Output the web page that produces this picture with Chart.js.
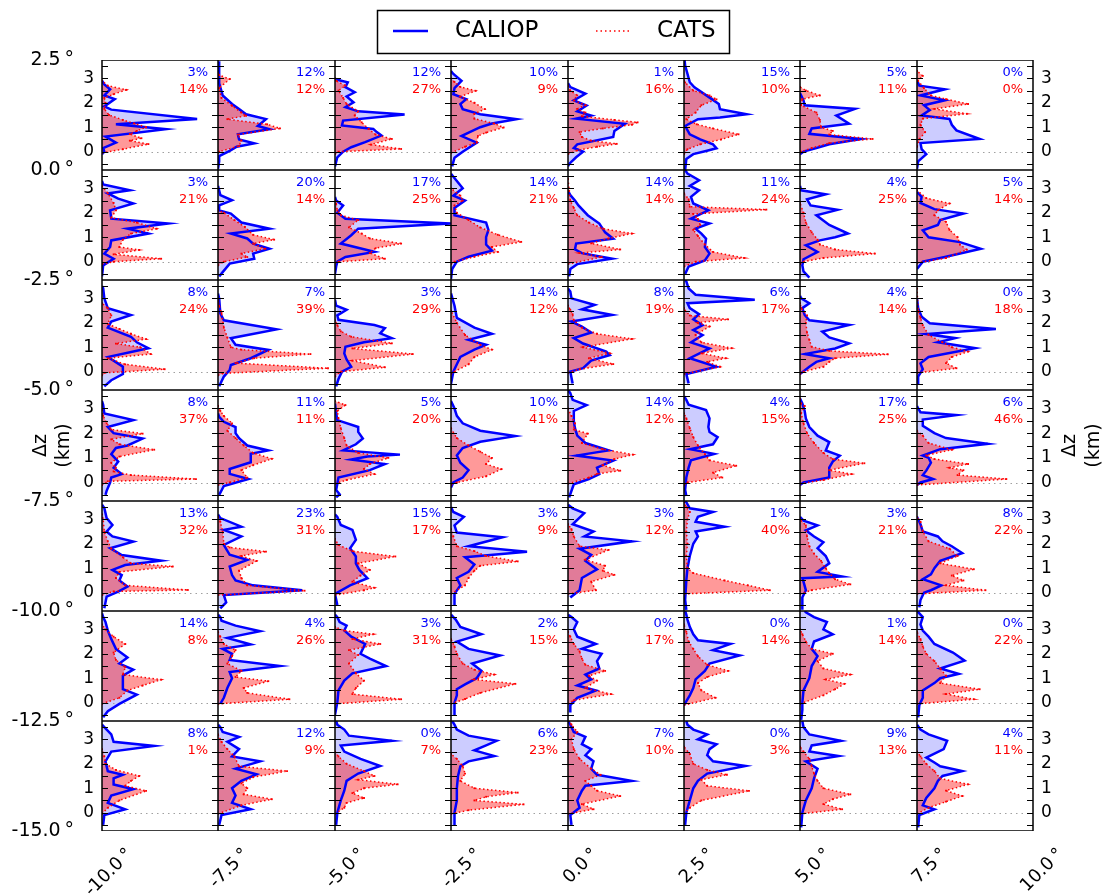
<!DOCTYPE html>
<html lang="en">
<head>
<meta charset="UTF-8">
<title>CALIOP vs CATS profiles</title>
<script src="https://cdn.jsdelivr.net/npm/chart.js"></script>
<style>
  body { margin: 0; background: #fff; }
  #wrap { position: relative; width: 1107px; height: 895px; }
  #wrap canvas { position: absolute; }
</style>
</head>
<body>
<div id="wrap"><canvas id="frame" width="1107" height="895" style="left:0;top:0"></canvas></div>

<script>
// grid of boxes: longitude columns and latitude rows (degrees)
const lonTicks = [-10, -7.5, -5, -2.5, 0, 2.5, 5, 7.5, 10];
const latTicks = [2.5, 0, -2.5, -5, -7.5, -10, -12.5, -15];
// height axis inside each box (km)
const dzTicks = [0, 1, 2, 3];
const dzMarks = [-0.5, 0, 0.5, 1, 1.5, 2, 2.5, 3, 3.5];

// percentages printed in each box, one row per latitude band
const caliopPct = [
  [3, 12, 12, 10, 1, 15, 5, 0],
  [3, 20, 17, 14, 14, 11, 4, 5],
  [8, 7, 3, 14, 8, 6, 4, 0],
  [8, 11, 5, 10, 14, 4, 17, 6],
  [13, 23, 15, 3, 3, 1, 3, 8],
  [14, 4, 3, 2, 0, 0, 1, 0],
  [8, 12, 0, 6, 7, 0, 9, 4]
];
const catsPct = [
  [14, 12, 27, 9, 16, 10, 11, 0],
  [21, 14, 25, 21, 14, 24, 25, 14],
  [24, 39, 29, 12, 19, 17, 14, 18],
  [37, 11, 20, 41, 12, 15, 25, 46],
  [32, 31, 17, 9, 12, 40, 21, 22],
  [8, 26, 31, 15, 17, 14, 14, 22],
  [1, 9, 7, 23, 10, 3, 13, 11]
];

// profiles: flat pairs dz(km), frequency (% of box width)
const caliop0 = [
  [-0.1,0, 0,2, 0.15,1, 0.37,12, 0.62,3, 0.92,55, 1.12,12, 1.34,82, 1.72,8, 1.85,2, 2.15,11, 2.3,2, 2.55,7, 2.75,2, 2.9,0],
  [-0.7,0, -0.4,1, -0.18,1, 0.03,10, 0.2,16, 0.34,31, 0.5,18, 0.71,17, 0.92,44, 1.05,34, 1.33,41, 1.53,24, 1.74,18, 1.95,12, 2.3,4, 2.8,1, 3.7,1],
  [-0.6,0, -0.23,2, 0,7, 0.18,14, 0.39,26, 0.66,40, 0.8,36, 0.93,33, 1.07,6, 1.27,7, 1.52,60, 1.65,20, 1.82,9, 2.02,16, 2.26,10, 2.43,17, 2.64,9, 2.84,11, 2.95,1, 3.0,0],
  [-0.6,1, -0.25,3, 0,10, 0.37,22, 0.64,9, 0.8,16, 1.0,25, 1.15,35, 1.33,56, 1.53,25, 1.74,10, 1.95,8, 2.15,13, 2.35,2, 2.6,3, 2.9,9, 3.18,2, 3.3,0],
  [-0.6,0, -0.5,1, -0.23,7, 0,13, 0.15,5, 0.3,8, 0.6,39, 0.85,40, 1.14,49, 1.35,7, 1.48,20, 1.65,8, 1.89,16, 2.1,5, 2.37,15, 2.64,2, 2.8,0],
  [-0.75,1, -0.3,2, -0.1,8, 0.03,19, 0.14,28, 0.3,25, 0.5,14, 0.71,5, 1.05,1, 1.33,12, 1.4,31, 1.53,54, 1.74,31, 1.95,30, 2.15,24, 2.63,9, 2.84,5, 3.52,1, 3.75,0.5],
  [-0.1,0, 0,3, 0.15,14, 0.3,25, 0.52,52, 0.73,8, 0.95,10, 1.14,42, 1.48,31, 1.75,47, 1.9,4, 2.1,3, 2.3,1, 2.4,0],
  [-0.7,0, -0.4,1, -0.1,8, 0.1,4, 0.35,3, 0.52,54, 0.87,34, 1.1,30, 1.34,28, 1.48,4, 1.7,11, 1.9,6, 2.1,24, 2.3,3, 2.55,24, 2.7,2, 2.9,0]
];
const cats0 = [
  [-0.05,0, 0.1,18, 0.31,40, 0.45,24, 0.55,34, 0.72,24, 0.85,30, 1.0,38, 1.15,28, 1.3,18, 1.5,6, 1.75,2, 2.0,3, 2.2,2, 2.35,10, 2.53,21, 2.7,5, 2.9,0],
  [-0.05,0, 0,1, 0.23,18, 0.45,20, 0.7,17, 0.95,53, 1.12,42, 1.33,8, 1.47,24, 1.6,20, 1.88,12, 2.2,3, 2.6,1, 2.97,10, 3.13,1, 3.2,0],
  [-0.1,0, 0,3, 0.11,57, 0.29,31, 0.52,49, 0.7,35, 0.93,29, 1.2,23, 1.48,17, 1.65,20, 1.95,10, 2.2,7, 2.5,3, 2.7,9, 2.9,1, 3.0,0],
  [-0.05,0, 0.2,12, 0.37,22, 0.64,23, 0.78,30, 0.99,45, 1.15,37, 1.35,20, 1.55,20, 1.74,29, 2.0,20, 2.25,8, 2.49,21, 2.65,8, 2.85,3, 3.0,0],
  [-0.1,0, 0.05,8, 0.2,25, 0.32,42, 0.45,20, 0.6,12, 0.8,10, 0.95,30, 1.1,55, 1.2,60, 1.3,40, 1.45,12, 1.6,15, 1.75,8, 1.9,15, 2.1,5, 2.3,8, 2.5,2, 2.7,0],
  [-0.1,0, 0.1,3, 0.3,14, 0.5,32, 0.71,47, 0.95,25, 1.12,11, 1.33,2, 1.6,10, 1.9,15, 2.14,28, 2.3,22, 2.5,8, 2.83,1, 2.9,0],
  [-0.05,0, 0,1, 0.15,10, 0.35,25, 0.52,62, 0.7,25, 0.85,28, 1.0,18, 1.3,17, 1.6,14, 1.9,1, 2.15,2, 2.3,17, 2.5,5, 2.65,0],
  [0.2,0, 0.5,2, 0.8,7, 1.1,3, 1.35,5, 1.55,43, 1.75,15, 1.95,44, 2.15,25, 2.3,12, 2.6,6, 2.9,1, 3.1,5, 3.3,0]
];
const caliop1 = [
  [-0.6,0, -0.15,1, 0.12,10, 0.33,2, 0.6,7, 0.87,8, 1.15,40, 1.35,22, 1.56,57, 1.76,8, 2.1,7, 2.38,27, 2.58,14, 2.79,5, 2.92,24, 3.16,1, 3.3,0],
  [-0.6,1, -0.08,10, 0.12,31, 0.33,30, 0.53,44, 0.74,30, 0.95,25, 1.15,11, 1.35,44, 1.6,20, 1.97,11, 2.1,1, 2.3,1, 2.51,12, 2.72,2, 3.1,0],
  [-0.5,0, -0.2,1, 0,2, 0.19,9, 0.4,34, 0.74,5, 1.08,14, 1.35,20, 1.56,100, 1.76,9, 2.0,2, 2.3,7, 2.5,1, 2.65,0],
  [-0.7,0, -0.3,1, 0,5, 0.2,15, 0.45,35, 0.7,30, 1.0,30, 1.3,32, 1.6,30, 1.9,3, 2.2,3, 2.5,12, 2.7,2, 3.0,10, 3.3,5, 3.6,0],
  [-0.6,1, -0.3,2, -0.1,8, 0.12,38, 0.35,12, 0.5,6, 0.74,7, 0.94,39, 1.2,32, 1.56,27, 1.9,17, 2.3,9, 2.5,6, 2.72,2, 2.9,0],
  [-0.5,1, -0.2,4, 0.05,18, 0.33,22, 0.6,18, 0.94,19, 1.15,15, 1.35,10, 1.56,22, 1.76,6, 2.1,21, 2.38,8, 2.65,6, 2.92,13, 3.1,5, 3.33,13, 3.6,3, 3.75,1],
  [-0.65,8, -0.4,3, -0.15,2, 0.1,3, 0.4,15, 0.67,5, 0.87,17, 1.0,30, 1.15,41, 1.5,25, 1.9,14, 2.12,32, 2.3,9, 2.55,6, 2.76,22, 2.92,1, 3.1,0],
  [-0.3,0, 0,5, 0.19,24, 0.53,55, 0.8,37, 1.0,10, 1.28,5, 1.5,18, 1.7,20, 1.97,40, 2.15,15, 2.4,3, 2.65,4, 2.85,0]
];
const cats1 = [
  [-0.1,0, 0,10, 0.12,51, 0.3,10, 0.48,32, 0.6,15, 0.9,18, 1.15,25, 1.35,47, 1.6,30, 1.8,8, 2.1,12, 2.4,10, 2.8,5, 3.1,0],
  [-0.15,0, 0,5, 0.19,25, 0.33,20, 0.53,40, 0.74,30, 0.9,48, 1.1,30, 1.42,23, 1.7,14, 2.0,5, 2.1,0],
  [-0.05,0, 0,3, 0.12,43, 0.35,30, 0.55,35, 0.74,57, 0.95,30, 1.15,23, 1.4,12, 1.7,20, 1.9,5, 2.1,2, 2.38,1, 2.5,0],
  [-0.1,0, 0,3, 0.2,20, 0.4,40, 0.6,35, 0.81,60, 1.1,40, 1.4,25, 1.7,15, 2.0,5, 2.3,3, 2.5,10, 2.7,8, 3.0,0],
  [-0.1,0, 0.19,29, 0.35,10, 0.5,45, 0.75,20, 0.95,35, 1.15,55, 1.35,30, 1.6,18, 1.9,8, 2.2,5, 2.5,2, 2.9,1, 3.4,0],
  [-0.2,0, 0,10, 0.15,52, 0.4,25, 0.7,18, 1.05,12, 1.3,8, 1.5,14, 1.75,12, 1.95,8, 2.13,71, 2.25,5, 2.55,4, 2.8,0],
  [-0.1,0, 0,3, 0.15,20, 0.33,64, 0.5,30, 0.7,17, 0.9,15, 1.2,10, 1.6,5, 2.0,3, 2.4,0],
  [-0.05,0, 0.15,25, 0.49,43, 0.7,37, 1.0,35, 1.3,28, 1.63,25, 1.9,15, 2.1,18, 2.38,28, 2.6,8, 2.92,0]
];
const caliop2 = [
  [-0.6,2, -0.35,8, -0.1,18, 0.2,18, 0.45,10, 0.6,5, 0.96,40, 1.2,30, 1.43,25, 1.8,5, 2.05,8, 2.32,25, 2.6,5, 3.0,2, 3.42,1, 3.5,0],
  [-0.6,1, -0.2,5, 0.07,10, 0.27,11, 0.55,28, 0.89,43, 1.1,15, 1.37,11, 1.73,50, 2.1,5, 2.38,2, 3.0,1, 3.2,0],
  [-0.6,1, -0.3,3, 0,6, 0.2,14, 0.5,10, 0.75,8, 1.02,9, 1.2,25, 1.37,49, 1.57,39, 1.78,43, 1.91,34, 2.12,3, 2.3,2, 2.53,10, 2.7,1, 2.94,0],
  [-0.5,0, 0,2, 0.3,5, 0.6,8, 0.9,20, 1.1,30, 1.3,15, 1.55,35, 1.8,20, 2.2,5, 2.7,3, 3.2,0],
  [-0.48,4, 0,2, 0.14,13, 0.45,20, 0.68,36, 0.82,33, 1.15,13, 1.37,5, 1.6,20, 1.84,12, 2.05,3, 2.32,38, 2.55,12, 2.73,23, 3.0,3, 3.28,2, 3.4,0],
  [-0.48,4, -0.1,2, 0.2,28, 0.55,5, 0.95,22, 1.2,6, 1.5,16, 1.7,8, 1.9,16, 2.14,8, 2.35,13, 2.6,5, 2.8,3, 2.94,61, 3.15,10, 3.4,4, 3.69,2, 3.75,1],
  [-0.1,0, 0.2,8, 0.4,14, 0.55,25, 0.72,4, 0.95,30, 1.16,42, 1.4,25, 1.64,19, 1.91,42, 2.1,8, 2.32,4, 2.6,2, 2.8,8, 3.0,1, 3.1,0],
  [-0.5,1, -0.2,1, 0.1,5, 0.34,3, 0.6,10, 0.96,50, 1.2,18, 1.37,33, 1.54,8, 1.75,68, 1.98,11, 2.25,4, 2.6,1, 3.0,0]
];
const cats2 = [
  [-0.15,0, -0.05,2, 0.1,54, 0.3,20, 0.55,5, 0.72,42, 1.0,33, 1.15,12, 1.33,38, 1.55,25, 1.75,15, 1.95,5, 2.3,8, 2.6,5, 2.8,0],
  [-0.15,0, -0.07,4, 0.14,94, 0.35,15, 0.55,31, 0.72,79, 0.9,20, 1.0,11, 1.4,8, 1.8,5, 2.4,3, 2.7,1, 2.9,0],
  [-0.2,0, 0,5, 0.18,43, 0.45,15, 0.72,67, 0.95,15, 1.16,49, 1.43,14, 1.65,5, 1.9,2, 2.1,0],
  [-0.1,0, 0,3, 0.3,15, 0.6,20, 0.9,35, 1.1,25, 1.5,12, 2.0,5, 2.5,0],
  [-0.05,0, 0.1,10, 0.31,39, 0.55,18, 0.75,36, 1.0,13, 1.34,55, 1.55,25, 1.8,12, 2.1,5, 2.35,4, 2.53,2, 2.7,0],
  [-0.1,0, 0.2,31, 0.4,20, 0.55,36, 0.75,15, 0.96,41, 1.2,15, 1.5,10, 1.85,22, 2.0,12, 2.14,38, 2.3,5, 2.5,1, 2.6,0],
  [-0.1,0, 0,3, 0.2,20, 0.4,25, 0.55,30, 0.71,75, 0.85,25, 1.02,10, 1.3,8, 1.6,6, 2.0,5, 2.3,6, 2.6,1, 2.8,0],
  [-0.05,0, 0.14,34, 0.35,25, 0.6,30, 0.82,44, 1.0,30, 1.2,22, 1.5,10, 1.9,5, 2.2,3, 2.5,1, 3.4,0]
];
const caliop3 = [
  [-0.5,3, -0.34,4, 0,7, 0.2,8, 0.34,17, 0.6,10, 0.85,14, 1.15,8, 1.4,12, 1.5,22, 1.78,35, 2.0,10, 2.25,5, 2.53,27, 2.8,2, 3.15,1, 3.3,0],
  [-0.5,1, -0.14,5, 0.14,26, 0.35,10, 0.55,10, 0.82,28, 1.16,28, 1.3,43, 1.5,25, 1.8,18, 2.0,15, 2.25,15, 2.46,5, 2.66,1, 2.8,0],
  [-0.6,1, -0.48,4, -0.3,1, 0.2,3, 0.5,30, 0.75,43, 0.93,14, 1.05,28, 1.13,56, 1.3,7, 1.55,18, 1.78,24, 2.05,20, 2.25,20, 2.53,2, 2.8,1, 3.2,0],
  [-0.2,0, 0,2, 0.2,10, 0.5,15, 0.8,8, 1.1,5, 1.4,10, 1.65,25, 1.88,55, 2.1,25, 2.4,10, 2.7,5, 3.0,3, 3.3,0],
  [-0.6,1, -0.07,5, 0.14,18, 0.34,27, 0.6,25, 0.89,39, 1.09,7, 1.3,35, 1.6,15, 1.9,8, 2.2,6, 2.5,5, 2.9,5, 3.14,16, 3.35,4, 3.62,2, 3.75,0],
  [-0.55,2, -0.3,1, 0.2,2, 0.6,4, 0.9,6, 1.16,26, 1.35,5, 1.55,25, 1.84,29, 2.05,22, 2.25,21, 2.6,22, 2.94,19, 3.15,4, 3.35,2, 3.5,0],
  [-0.1,0, 0,3, 0.2,25, 0.6,25, 0.85,28, 1.09,34, 1.3,22, 1.64,25, 1.9,15, 2.25,8, 2.6,5, 2.9,4, 3.2,2, 3.4,0],
  [-0.1,0, 0,3, 0.14,14, 0.3,5, 0.48,8, 0.8,12, 1.0,10, 1.09,5, 1.35,20, 1.57,61, 1.8,25, 2.0,15, 2.3,5, 2.55,5, 2.73,34, 2.85,3, 3.0,1, 3.1,0]
];
const cats3 = [
  [-0.1,0, 0.05,5, 0.14,81, 0.3,25, 0.45,10, 0.6,12, 0.8,8, 1.05,15, 1.33,45, 1.55,15, 1.75,8, 1.98,35, 2.15,8, 2.4,4, 2.7,1, 2.95,0],
  [-0.1,0, 0,10, 0.2,25, 0.5,20, 0.7,30, 0.96,46, 1.2,30, 1.5,22, 1.8,15, 2.1,8, 2.4,12, 2.7,5, 2.9,2, 3.1,0],
  [-0.05,0, 0.1,10, 0.34,34, 0.55,25, 0.75,30, 1.0,46, 1.2,20, 1.5,10, 1.8,8, 2.2,5, 2.6,3, 2.9,2, 3.14,9, 3.3,0],
  [-0.1,0, 0,5, 0.25,30, 0.54,43, 0.75,30, 1.0,35, 1.25,25, 1.5,15, 1.8,5, 2.2,0],
  [-0.05,0, 0.2,18, 0.35,25, 0.48,45, 0.7,30, 0.95,40, 1.13,56, 1.35,30, 1.6,12, 1.98,17, 2.15,5, 2.4,6, 2.7,3, 3.0,0],
  [-0.1,0, 0,3, 0.2,33, 0.4,25, 0.68,45, 0.9,22, 1.15,18, 1.5,12, 1.84,8, 2.2,5, 2.6,2, 2.8,0],
  [-0.05,0, 0.1,20, 0.34,44, 0.5,25, 0.78,55, 0.95,28, 1.2,20, 1.6,12, 2.0,6, 2.4,3, 2.8,1, 3.1,4, 3.2,1, 3.4,0],
  [-0.1,0, 0.14,77, 0.3,35, 0.5,40, 0.6,28, 0.75,44, 0.95,15, 1.1,8, 1.33,30, 1.6,10, 1.9,5, 2.1,0]
];
const caliop4 = [
  [-0.64,2, -0.16,4, 0.04,14, 0.25,22, 0.5,15, 0.72,17, 0.93,9, 1.13,20, 1.31,51, 1.54,17, 1.82,7, 2.09,27, 2.3,9, 2.5,4, 2.77,9, 3.05,4, 3.46,2, 3.6,0],
  [-0.64,2, -0.4,7, -0.1,5, 0.1,72, 0.3,30, 0.5,15, 0.72,12, 1.07,10, 1.34,25, 1.55,10, 1.95,5, 2.3,20, 2.57,5, 2.7,20, 3.05,2, 3.2,0],
  [-0.5,2, -0.05,0, 0.3,13, 0.59,28, 0.93,21, 1.2,18, 1.48,18, 1.82,13, 2.16,18, 2.57,15, 2.77,5, 3.1,2, 3.2,0],
  [-0.5,3, -0.05,3, 0.3,8, 0.6,5, 0.85,15, 1.15,20, 1.45,12, 1.67,65, 1.9,15, 2.27,44, 2.46,5, 2.75,3, 3.1,11, 3.3,2, 3.5,0],
  [-0.2,2, 0.1,10, 0.6,12, 0.95,25, 1.3,15, 1.55,20, 1.8,10, 2.1,55, 2.3,14, 2.5,22, 2.8,4, 3.25,14, 3.45,4, 3.6,0],
  [-0.7,2, -0.3,1, 0.5,2, 1.0,3, 1.5,5, 2.0,8, 2.3,12, 2.5,10, 2.7,35, 2.9,10, 3.1,12, 3.3,25, 3.45,5, 3.7,2, 3.75,1],
  [-0.7,2, -0.2,2, 0.1,5, 0.45,3, 0.59,2, 0.66,36, 0.85,15, 1.2,25, 1.5,22, 1.82,15, 2.06,20, 2.3,12, 2.55,5, 2.75,15, 2.95,3, 3.1,0],
  [-0.6,2, -0.3,3, 0,6, 0.1,12, 0.3,21, 0.55,5, 0.75,12, 1.0,15, 1.3,20, 1.62,39, 1.9,30, 2.1,22, 2.3,18, 2.5,5, 2.8,3, 3.0,1, 3.1,0]
];
const cats4 = [
  [-0.1,0, 0.05,10, 0.11,74, 0.3,20, 0.6,12, 0.85,15, 1.07,61, 1.2,25, 1.45,18, 1.8,8, 2.1,5, 2.5,2, 3.0,1, 3.2,0],
  [-0.1,0, 0.08,74, 0.3,25, 0.6,20, 0.9,18, 1.3,33, 1.5,20, 1.68,41, 1.85,10, 2.0,5, 2.5,4, 2.9,2, 3.1,0],
  [-0.1,0, 0.1,25, 0.2,34, 0.45,15, 0.7,22, 0.93,30, 1.2,20, 1.48,52, 1.7,15, 1.95,3, 2.2,0],
  [-0.05,0, 0.3,12, 0.6,15, 0.9,20, 1.1,25, 1.28,57, 1.5,30, 1.7,20, 1.9,5, 2.3,2, 2.6,0],
  [-0.05,0, 0.1,24, 0.45,20, 0.73,40, 0.9,30, 1.1,32, 1.35,15, 1.75,35, 1.9,10, 2.3,5, 2.6,3, 2.8,0],
  [-0.05,0, 0.1,74, 0.3,55, 0.5,35, 0.8,8, 1.0,3, 1.5,2, 2.0,3, 2.5,2, 3.0,3, 3.3,5, 3.5,2, 3.7,0],
  [-0.05,0, 0.1,10, 0.34,43, 0.55,30, 0.8,25, 1.0,22, 1.3,18, 1.6,12, 1.9,8, 2.3,6, 2.75,5, 3.0,0],
  [-0.05,0, 0.1,59, 0.3,25, 0.5,40, 0.7,30, 0.96,49, 1.2,20, 1.5,35, 1.8,28, 2.1,10, 2.5,5, 2.9,3, 3.1,0]
];
const caliop5 = [
  [-0.6,1, -0.35,5, -0.05,15, 0.33,30, 0.55,18, 0.8,18, 1.1,18, 1.35,27, 1.6,15, 1.85,22, 2.2,12, 2.6,8, 2.95,5, 3.3,3, 3.5,1, 3.65,0],
  [-0.05,2, 0.2,5, 0.6,8, 1.0,12, 1.25,10, 1.5,53, 1.75,10, 2.0,12, 2.2,4, 2.38,28, 2.65,8, 2.92,36, 3.15,15, 3.35,3, 3.5,2, 3.6,0],
  [-0.5,0, 0,2, 0.5,3, 0.9,8, 1.2,15, 1.5,44, 1.8,30, 2.0,22, 2.4,26, 2.7,14, 2.95,8, 3.15,10, 3.3,4, 3.5,2, 3.6,0],
  [-0.5,3, 0,3, 0.3,5, 0.55,5, 0.75,12, 1.0,22, 1.3,26, 1.6,18, 1.93,42, 2.2,15, 2.5,5, 2.8,26, 3.1,8, 3.4,4, 3.6,0],
  [-0.4,2, -0.1,2, 0.2,8, 0.5,24, 0.7,8, 0.95,20, 1.15,15, 1.4,27, 1.7,25, 2.0,29, 2.2,12, 2.4,24, 2.7,8, 3.0,5, 3.3,8, 3.5,3, 3.6,0],
  [-0.1,0, 0.3,5, 0.6,8, 0.95,10, 1.3,18, 1.6,22, 1.93,48, 2.15,25, 2.4,40, 2.55,12, 2.8,8, 3.1,5, 3.4,3, 3.6,2, 3.75,1],
  [-0.7,1, -0.3,2, 0,2, 0.5,3, 1.0,8, 1.5,10, 1.9,15, 2.2,10, 2.5,12, 2.8,28, 3.0,20, 3.3,23, 3.5,12, 3.7,5, 3.75,4],
  [-0.6,1, -0.1,2, 0.2,5, 0.5,5, 0.8,15, 1.0,20, 1.18,36, 1.4,20, 1.72,41, 2.05,31, 2.4,15, 2.7,10, 2.95,5, 3.2,3, 3.5,5, 3.7,1, 3.75,0]
];
const cats5 = [
  [-0.05,0, 0.2,15, 0.5,22, 0.7,35, 0.94,51, 1.15,18, 1.45,20, 1.75,12, 2.05,10, 2.4,20, 2.7,10, 3.0,3, 3.2,0],
  [-0.05,0, 0.14,61, 0.4,25, 0.6,22, 0.88,43, 1.05,15, 1.3,20, 1.6,8, 1.9,12, 2.15,15, 2.4,5, 2.7,2, 2.9,0],
  [-0.05,0, 0.14,57, 0.35,15, 0.6,18, 0.9,25, 1.2,18, 1.6,12, 1.95,20, 2.15,12, 2.4,39, 2.6,15, 2.8,33, 2.95,8, 3.1,0],
  [-0.05,0, 0.15,12, 0.4,25, 0.77,55, 0.95,20, 1.15,37, 1.35,20, 1.6,10, 2.0,5, 2.3,3, 2.6,0],
  [-0.05,0, 0.1,5, 0.35,37, 0.6,15, 0.9,25, 1.1,18, 1.3,32, 1.55,15, 1.8,12, 2.1,10, 2.4,5, 2.7,2, 2.9,0],
  [-0.1,0, 0.2,27, 0.5,15, 0.8,12, 1.05,20, 1.3,38, 1.55,20, 1.9,12, 2.2,8, 2.5,4, 2.9,2, 3.2,0],
  [-0.05,0, 0.3,20, 0.55,30, 0.77,38, 0.95,22, 1.15,43, 1.4,20, 1.7,15, 2.0,28, 2.2,10, 2.5,5, 2.8,2, 3.0,0],
  [-0.05,0, 0.14,49, 0.35,25, 0.55,54, 0.8,20, 1.1,25, 1.4,20, 1.7,15, 2.0,8, 2.3,5, 2.6,3, 2.9,0]
];
const caliop6 = [
  [-0.5,1, -0.1,2, 0.14,20, 0.4,5, 0.7,8, 0.96,27, 1.15,10, 1.4,10, 1.55,18, 1.7,5, 2.1,3, 2.5,8, 2.73,45, 2.9,10, 3.2,8, 3.45,3, 3.6,0],
  [-0.5,1, -0.1,3, 0.14,28, 0.4,12, 0.7,15, 1.0,12, 1.3,20, 1.57,33, 1.8,15, 2.1,36, 2.3,12, 2.6,18, 2.9,8, 3.1,18, 3.3,4, 3.5,2, 3.6,0],
  [-0.5,1, 0,2, 0.5,5, 0.9,8, 1.3,10, 1.6,20, 1.91,39, 2.2,22, 2.5,8, 2.75,5, 2.94,49, 3.15,12, 3.4,8, 3.6,2, 3.75,1],
  [-0.5,3, 0,3, 0.5,5, 1.0,5, 1.5,6, 1.9,8, 2.1,15, 2.32,37, 2.55,20, 2.75,30, 2.94,39, 3.15,15, 3.4,5, 3.6,3, 3.75,1],
  [-0.5,3, -0.1,2, 0.2,10, 0.5,8, 0.9,12, 1.1,15, 1.3,55, 1.55,25, 1.8,20, 2.1,22, 2.35,15, 2.6,20, 2.8,12, 3.1,15, 3.3,5, 3.6,2, 3.75,0],
  [-0.5,1, 0,2, 0.5,5, 1.0,8, 1.3,12, 1.6,20, 1.91,53, 2.1,25, 2.35,20, 2.6,22, 2.8,28, 3.0,12, 3.2,20, 3.4,8, 3.6,3, 3.75,2],
  [-0.6,1, 0,2, 0.5,5, 1.0,10, 1.4,12, 1.8,15, 2.1,5, 2.32,33, 2.5,8, 2.75,10, 2.94,35, 3.2,8, 3.5,3, 3.75,2],
  [-0.6,1, -0.1,2, 0.14,15, 0.3,5, 0.6,8, 1.0,15, 1.3,18, 1.5,22, 1.7,39, 1.9,20, 2.05,15, 2.25,8, 2.6,23, 2.94,26, 3.2,10, 3.4,3, 3.6,0]
];
const cats6 = [
  [-0.05,0, 0.2,5, 0.5,15, 0.89,38, 1.1,20, 1.3,25, 1.5,32, 1.75,12, 2.0,3, 2.3,2, 2.6,0],
  [-0.05,0, 0.3,20, 0.55,46, 0.75,22, 1.0,25, 1.2,20, 1.45,30, 1.7,59, 1.9,18, 2.3,14, 2.6,8, 2.9,3, 3.2,0],
  [-0.05,0, 0.2,8, 0.4,10, 0.6,25, 0.8,15, 1.0,25, 1.16,54, 1.35,20, 1.5,34, 1.7,25, 2.0,10, 2.3,3, 2.5,0],
  [-0.05,0, 0.1,15, 0.34,62, 0.5,20, 0.65,30, 0.82,57, 1.0,20, 1.3,8, 1.6,12, 1.9,10, 2.2,5, 2.4,0],
  [-0.05,0, 0.14,22, 0.35,12, 0.68,45, 0.9,25, 1.1,20, 1.3,15, 1.55,28, 1.8,20, 2.2,10, 2.6,5, 3.0,3, 3.3,8, 3.6,3, 3.75,1],
  [-0.05,0, 0.2,5, 0.5,15, 0.89,56, 1.1,20, 1.35,15, 1.55,37, 1.75,20, 2.0,8, 2.4,5, 2.7,0],
  [-0.05,0, 0.14,36, 0.35,20, 0.55,28, 0.75,43, 1.0,20, 1.3,15, 1.6,12, 1.9,10, 2.2,8, 2.5,3, 2.7,0],
  [-0.05,0, 0.2,10, 0.45,25, 0.68,39, 0.9,25, 1.16,44, 1.4,20, 1.7,15, 2.0,8, 2.3,3, 2.5,0]
];

const caliop = [caliop0, caliop1, caliop2, caliop3, caliop4, caliop5, caliop6];
const cats = [cats0, cats1, cats2, cats3, cats4, cats5, cats6];

Chart.defaults.font.family = '"DejaVu Sans", sans-serif';
Chart.defaults.color = '#000';

function toPoints(flat) {
  const pts = [];
  for (let i = 0; i < flat.length; i += 2) pts.push({ y: flat[i], x: flat[i + 1] });
  return pts;
}

function deg(v) {
  return v.toFixed(1) + '\u2009\u00b0';
}

// legend box and the two "Δz (km)" titles on the outer frame
const frameDecor = {
  id: 'frameDecor',
  afterDraw(chart) {
    const ctx = chart.ctx;
    const a = chart.chartArea;
    ctx.save();
    ctx.strokeStyle = '#000';
    ctx.lineWidth = 1.5;
    ctx.strokeRect(377.5, 10.5, 352, 43);
    ctx.lineWidth = 2.5;
    ctx.strokeStyle = '#0000ff';
    ctx.beginPath(); ctx.moveTo(393, 31); ctx.lineTo(428, 31); ctx.stroke();
    ctx.lineWidth = 1.5;
    ctx.strokeStyle = '#ff0000';
    ctx.setLineDash([1.5, 3]);
    ctx.beginPath(); ctx.moveTo(596, 31); ctx.lineTo(631, 31); ctx.stroke();
    ctx.setLineDash([]);
    ctx.fillStyle = '#000';
    ctx.font = '23px "DejaVu Sans"';
    ctx.textBaseline = 'middle';
    ctx.textAlign = 'left';
    ctx.fillText('CALIOP', 455, 31);
    ctx.fillText('CATS', 657, 31);

    const midY = (a.top + a.bottom) / 2;
    ctx.font = '19px "DejaVu Sans"';
    ctx.textAlign = 'center';
    [[41, 'Δz'], [64, '(km)'], [1070, 'Δz'], [1094, '(km)']].forEach(([x, t]) => {
      ctx.save();
      ctx.translate(x, midY);
      ctx.rotate(-Math.PI / 2);
      ctx.fillText(t, 0, 0);
      ctx.restore();
    });
    ctx.restore();
  }
};

const frame = new Chart(document.getElementById('frame'), {
  type: 'scatter',
  data: { datasets: [] },
  options: {
    responsive: false,
    animation: false,
    events: [],
    layout: { padding: { top: 60, right: 74, left: 0, bottom: 0 }, autoPadding: false },
    plugins: { legend: { display: false }, tooltip: { enabled: false } },
    scales: {
      x: {
        min: -10, max: 10,
        grid: { display: false, drawTicks: false },
        border: { display: false },
        afterBuildTicks: s => { s.ticks = lonTicks.map(v => ({ value: v })); },
        afterFit: s => { s.height = 64; s.paddingLeft = 0; s.paddingRight = 0; },
        ticks: {
          autoSkip: false, minRotation: 45, maxRotation: 45,
          padding: 13, labelOffset: 28,
          font: { size: 18 },
          callback: v => deg(v)
        }
      },
      y: {
        min: -15, max: 2.5,
        grid: { display: false, drawTicks: false },
        border: { display: false },
        afterBuildTicks: s => { s.ticks = latTicks.map(v => ({ value: v })); },
        afterFit: s => { s.width = 102; s.paddingTop = 0; s.paddingBottom = 0; },
        ticks: { padding: 28, font: { size: 19 }, callback: v => deg(v) }
      }
    }
  },
  plugins: [frameDecor]
});

// per-box decoration: z=0 line, inward ticks, frame and percentages
const cellDecor = {
  id: 'cellDecor',
  beforeDatasetsDraw(chart) {
    const { ctx, chartArea: a } = chart;
    const y0 = Math.round(chart.scales.y.getPixelForValue(0)) + 0.5;
    ctx.save();
    ctx.strokeStyle = '#a0a0a0';
    ctx.lineWidth = 1;
    ctx.setLineDash([1.5, 4]);
    ctx.beginPath(); ctx.moveTo(a.left, y0); ctx.lineTo(a.right, y0); ctx.stroke();
    ctx.restore();
  },
  afterDraw(chart, args, opts) {
    const { ctx, chartArea: a } = chart;
    const ys = chart.scales.y;
    ctx.save();
    ctx.strokeStyle = '#000';
    ctx.lineWidth = 1;
    ctx.beginPath();
    dzMarks.forEach(v => {
      const py = Math.round(ys.getPixelForValue(v)) + 0.5;
      ctx.moveTo(a.left, py); ctx.lineTo(a.left + 6, py);
      ctx.moveTo(a.right - 6, py); ctx.lineTo(a.right, py);
    });
    ctx.stroke();
    ctx.lineWidth = 1.5;
    ctx.strokeRect(a.left, a.top, a.right - a.left, a.bottom - a.top);
    ctx.font = '13px "DejaVu Sans"';
    ctx.textAlign = 'right';
    ctx.textBaseline = 'middle';
    ctx.fillStyle = '#0000ff';
    ctx.fillText(opts.caliop + '%', a.right - 10, a.top + 13);
    ctx.fillStyle = '#ff0000';
    ctx.fillText(opts.cats + '%', a.right - 10, a.top + 30);
    ctx.restore();
  }
};

const wrap = document.getElementById('wrap');
const margin = 30;
const xs = frame.scales.x, ysF = frame.scales.y;

for (let r = 0; r < latTicks.length - 1; r++) {
  for (let c = 0; c < lonTicks.length - 1; c++) {
    const L = Math.round(xs.getPixelForValue(lonTicks[c]));
    const R = Math.round(xs.getPixelForValue(lonTicks[c + 1]));
    const T = Math.round(ysF.getPixelForValue(latTicks[r]));
    const B = Math.round(ysF.getPixelForValue(latTicks[r + 1]));
    const first = c === 0, last = c === lonTicks.length - 2;
    const edge = first || last;
    const cv = document.createElement('canvas');
    cv.width = (R - L) + (edge ? margin : 0);
    cv.height = B - T;
    cv.style.left = (L - (first ? margin : 0)) + 'px';
    cv.style.top = T + 'px';
    wrap.appendChild(cv);

    new Chart(cv, {
      type: 'line',
      data: {
        datasets: [
          {
            label: 'CALIOP',
            data: toPoints(caliop[r][c]),
            order: 1,
            borderColor: '#0000ff',
            borderWidth: 2.5,
            backgroundColor: 'rgba(0,0,255,0.2)',
            fill: 'origin',
            pointRadius: 0,
            tension: 0
          },
          {
            label: 'CATS',
            data: toPoints(cats[r][c]),
            order: 0,
            borderColor: '#ff0000',
            borderWidth: 1.5,
            borderDash: [1.5, 2.5],
            backgroundColor: 'rgba(255,0,0,0.4)',
            fill: 'origin',
            pointRadius: 1.3,
            pointStyle: 'rect',
            pointBackgroundColor: '#ff0000',
            pointBorderWidth: 0,
            tension: 0
          }
        ]
      },
      options: {
        indexAxis: 'y',
        responsive: false,
        animation: false,
        events: [],
        layout: { padding: 0, autoPadding: false },
        plugins: {
          legend: { display: false },
          tooltip: { enabled: false },
          filler: { drawTime: 'beforeDatasetsDraw' },
          cellDecor: { caliop: caliopPct[r][c], cats: catsPct[r][c] }
        },
        scales: {
          x: {
            type: 'linear', min: 0, max: 100, display: false,
            afterFit: s => { s.height = 0; s.paddingLeft = 0; s.paddingRight = 0; }
          },
          y: {
            type: 'linear', min: -0.75, max: 3.75,
            display: edge,
            position: last ? 'right' : 'left',
            grid: { display: false, drawTicks: false },
            border: { display: false },
            afterBuildTicks: s => { s.ticks = dzTicks.map(v => ({ value: v })); },
            afterFit: s => {
              s.width = edge ? margin : 0;
              s.paddingTop = 0;
              s.paddingBottom = 0;
            },
            ticks: { padding: 8, font: { size: 17 } }
          }
        }
      },
      plugins: [cellDecor]
    });
  }
}
</script>
</body>
</html>
